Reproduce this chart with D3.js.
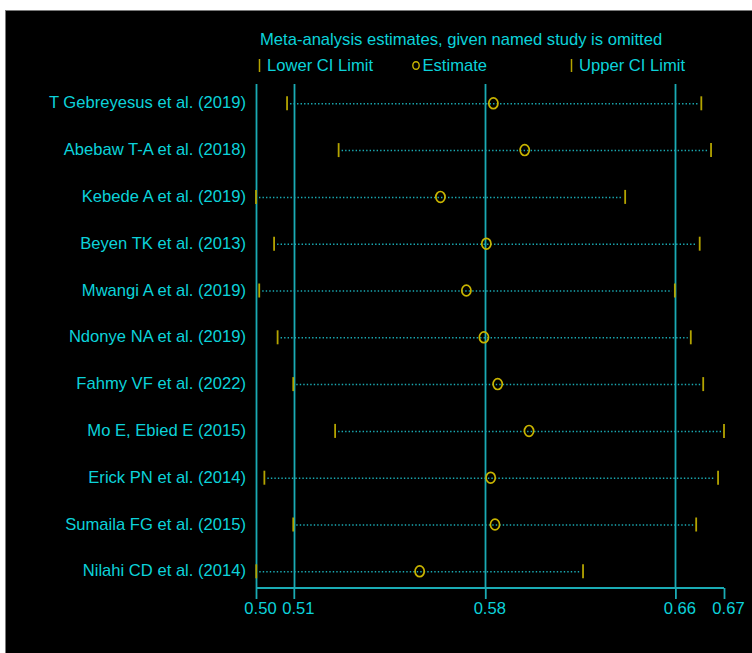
<!DOCTYPE html>
<html>
<head>
<meta charset="utf-8">
<script src="https://cdn.jsdelivr.net/npm/d3@7"></script>
<style>
    body { margin: 0; background: #ffffff; }
    svg text { font-family: "Liberation Sans", Arial, sans-serif; }
</style>
</head>
<body>
<svg id="mySvg" width="752" height="653"></svg>
<script>
    // studies, one row each (omitted study)
    var studies = [
        "T Gebreyesus et al. (2019)",
        "Abebaw T-A et al. (2018)",
        "Kebede A et al. (2019)",
        "Beyen TK et al. (2013)",
        "Mwangi A et al. (2019)",
        "Ndonye NA et al. (2019)",
        "Fahmy VF et al. (2022)",
        "Mo E, Ebied E (2015)",
        "Erick PN et al. (2014)",
        "Sumaila FG et al. (2015)",
        "Nilahi CD et al. (2014)"
    ];
    var lowerCI  = [0.5115, 0.5306, 0.5000, 0.5067, 0.5012, 0.5080, 0.5138, 0.5293, 0.5031, 0.5138, 0.5001];
    var estimate = [0.5879, 0.5995, 0.5683, 0.5853, 0.5779, 0.5844, 0.5895, 0.6011, 0.5869, 0.5885, 0.5606];
    var upperCI  = [0.6649, 0.6685, 0.6367, 0.6643, 0.6551, 0.6610, 0.6656, 0.6733, 0.6711, 0.6630, 0.6211];

    // pooled estimate with all studies: lower, estimate, upper
    var overall = [0.5140, 0.5849, 0.6553];

    var txtColor = "#0cd2da";
    var lineColor = "#1aabb4";
    var ciColor = "#b4a400";
    var estColor = "#c8b400";
    var fontSize = "16.6px";

    var svg = d3.select("#mySvg");

    // black panel with grey edge
    svg.append("rect")
        .attr("x", 5.5)
        .attr("y", 10.5)
        .attr("width", 760)
        .attr("height", 660)
        .style("fill", "#000000")
        .style("stroke", "#7a7a7a");

    var xMin = d3.min(lowerCI);
    var xMax = d3.max(upperCI);
    var tickVals = [xMin, overall[0], overall[1], overall[2], xMax];

    var x = d3.scaleLinear()
        .domain([xMin, xMax])
        .range([256, 724]);

    var y = d3.scalePoint()
        .domain(studies)
        .range([103.3, 571.3]);

    var axisY = 588;
    var plotTop = 84;

    // reference lines (left edge, pooled lower, estimate, upper)
    svg.selectAll(".refline")
        .data(tickVals.slice(0, 4))
        .enter().append("line")
        .attr("class", "refline")
        .attr("x1", function (d) { return Math.round(x(d)) + 0.5; })
        .attr("x2", function (d) { return Math.round(x(d)) + 0.5; })
        .attr("y1", plotTop)
        .attr("y2", axisY)
        .style("stroke", lineColor)
        .style("stroke-width", 1.8);

    // x axis
    var xAxis = d3.axisBottom(x)
        .tickValues(tickVals)
        .tickSize(11)
        .tickFormat(d3.format(".2f"));

    var gx = svg.append("g")
        .attr("transform", "translate(0," + axisY + ")")
        .call(xAxis);
    gx.select(".domain")
        .attr("d", "M" + x(xMin) + ",0H" + x(xMax))
        .style("stroke", lineColor)
        .style("stroke-width", 1.8);
    gx.selectAll(".tick line")
        .style("stroke", lineColor)
        .style("stroke-width", 1.8);
    gx.selectAll(".tick text")
        .attr("y", 14)
        .attr("dx", 4)
        .style("fill", txtColor)
        .style("font-size", fontSize)
        .style("font-family", "Liberation Sans, Arial, sans-serif");

    // dotted CI lines
    svg.selectAll(".ciline")
        .data(studies)
        .enter().append("line")
        .attr("class", "ciline")
        .attr("x1", function (d, i) { return x(lowerCI[i]) + 3; })
        .attr("x2", function (d, i) { return x(upperCI[i]) - 3; })
        .attr("y1", function (d) { return y(d) + 0.5; })
        .attr("y2", function (d) { return y(d) + 0.5; })
        .style("stroke", lineColor)
        .style("stroke-width", 1.5)
        .style("stroke-dasharray", "1.4,2.1");

    // lower and upper CI marks
    [lowerCI, upperCI].forEach(function (arr) {
        svg.append("g").selectAll("line")
            .data(studies)
            .enter().append("line")
            .attr("x1", function (d, i) { return x(arr[i]); })
            .attr("x2", function (d, i) { return x(arr[i]); })
            .attr("y1", function (d) { return y(d) - 7; })
            .attr("y2", function (d) { return y(d) + 7; })
            .style("stroke", ciColor)
            .style("stroke-width", 1.8);
    });

    // estimates
    svg.selectAll(".est")
        .data(studies)
        .enter().append("ellipse")
        .attr("class", "est")
        .attr("cx", function (d, i) { return x(estimate[i]); })
        .attr("cy", function (d) { return y(d); })
        .attr("rx", 4.6)
        .attr("ry", 5.4)
        .style("fill", "none")
        .style("stroke", estColor)
        .style("stroke-width", 1.7);

    // study labels
    svg.selectAll(".lab")
        .data(studies)
        .enter().append("text")
        .attr("class", "lab")
        .attr("x", 246)
        .attr("y", function (d) { return y(d) + 5; })
        .attr("text-anchor", "end")
        .style("fill", txtColor)
        .style("font-size", fontSize)
        .text(function (d) { return d; });

    // title
    svg.append("text")
        .attr("x", 260)
        .attr("y", 45)
        .style("fill", txtColor)
        .style("font-size", fontSize)
        .text("Meta-analysis estimates, given named study is omitted");

    // legend
    var legY = 71;
    svg.append("line")
        .attr("x1", 259.5).attr("x2", 259.5)
        .attr("y1", legY - 12).attr("y2", legY + 1)
        .style("stroke", ciColor).style("stroke-width", 1.5);
    svg.append("text")
        .attr("x", 267).attr("y", legY)
        .style("fill", txtColor).style("font-size", fontSize)
        .text("Lower CI Limit");

    svg.append("ellipse")
        .attr("cx", 416).attr("cy", legY - 5.5)
        .attr("rx", 3.2).attr("ry", 3.8)
        .style("fill", "none").style("stroke", estColor).style("stroke-width", 1.4);
    svg.append("text")
        .attr("x", 422.5).attr("y", legY)
        .style("fill", txtColor).style("font-size", fontSize)
        .text("Estimate");

    svg.append("line")
        .attr("x1", 571.5).attr("x2", 571.5)
        .attr("y1", legY - 12).attr("y2", legY + 1)
        .style("stroke", ciColor).style("stroke-width", 1.5);
    svg.append("text")
        .attr("x", 579).attr("y", legY)
        .style("fill", txtColor).style("font-size", fontSize)
        .text("Upper CI Limit");
</script>
</body>
</html>
